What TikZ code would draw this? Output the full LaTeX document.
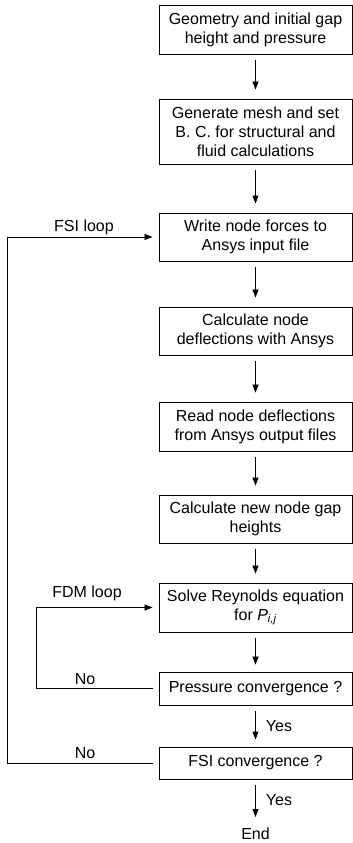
\documentclass[tikz,border=0pt]{standalone}
\usepackage{fontspec}
\setmainfont{Liberation Sans}
\usetikzlibrary{arrows.meta}
\tikzset{
  stepbox/.style={draw,line width=0.9pt,minimum width=193pt,align=center,inner sep=0pt},
  flow/.style={-{Triangle[length=8pt,width=6pt]},line width=0.8pt},
  lbl/.style={inner sep=0pt}
}
\begin{document}
\begin{tikzpicture}[x=1pt,y=-1pt,font=\fontsize{16}{19}\selectfont]
  \useasboundingbox (0,0) rectangle (353,843);
  % main chain
  \node[stepbox,minimum height=49pt] (geom) at (255.5,29.5){Geometry and initial gap\\height and pressure};
  \node[stepbox,minimum height=65pt] (mesh) at (255.5,131.5){Generate mesh and set\\B. C. for structural and\\fluid calculations};
  \node[stepbox,minimum height=48pt] (write) at (255.5,237){Write node forces to\\Ansys input file};
  \node[stepbox,minimum height=48pt] (calc) at (255.5,331){Calculate node\\deflections with Ansys};
  \node[stepbox,minimum height=49pt] (read) at (255.5,426.5){Read node deflections\\from Ansys output files};
  \node[stepbox,minimum height=48pt] (gaph) at (255.5,519){Calculate new node gap\\heights};
  \node[stepbox,minimum height=49pt] (solve) at (255.5,607.5){Solve Reynolds equation\\for \textit{P}\textsubscript{\textit{i,j}}};
  \node[stepbox,minimum height=33pt] (press) at (255.5,688.5){Pressure convergence ?};
  \node[stepbox,minimum height=32pt] (fsi) at (255.5,763){FSI convergence ?};
  \node[lbl] (stop) at (255.5,834){End};
  \foreach \a/\b in {geom/mesh,mesh/write,write/calc,calc/read,read/gaph,gaph/solve}{
    \draw[flow,shorten <=6pt,shorten >=9pt](\a.south)--(\b.north);}
  \draw[flow,shorten <=6pt,shorten >=7pt](solve.south)--(press.north);
  \draw[flow,shorten <=6pt,shorten >=7pt](press.south)--(fsi.north)
    node[midway,anchor=west,xshift=10pt,lbl]{Yes};
  \draw[flow,shorten <=6pt,shorten >=17pt](fsi.south)--(stop.center)
    node[midway,anchor=west,xshift=10pt,yshift=6.5pt,lbl]{Yes};
  % loops
  \coordinate (fdmx) at (36,0);
  \coordinate (fsix) at (7,0);
  \draw[flow,shorten <=6pt,shorten >=6pt](press.west)--(fdmx|-press.west)--(fdmx|-solve.west)--(solve.west);
  \draw[flow,shorten <=6pt,shorten >=6pt](fsi.west)--(fsix|-fsi.west)--(fsix|-write.west)--(write.west);
  \node[lbl] (fdmlbl) at (87,593){FDM loop};
  \node[lbl] (fsilbl) at (84,227){FSI loop};
  \node[lbl] (nopress) at (85,679){No};
  \node[lbl] (nofsi) at (85,753){No};
\end{tikzpicture}
\end{document}
